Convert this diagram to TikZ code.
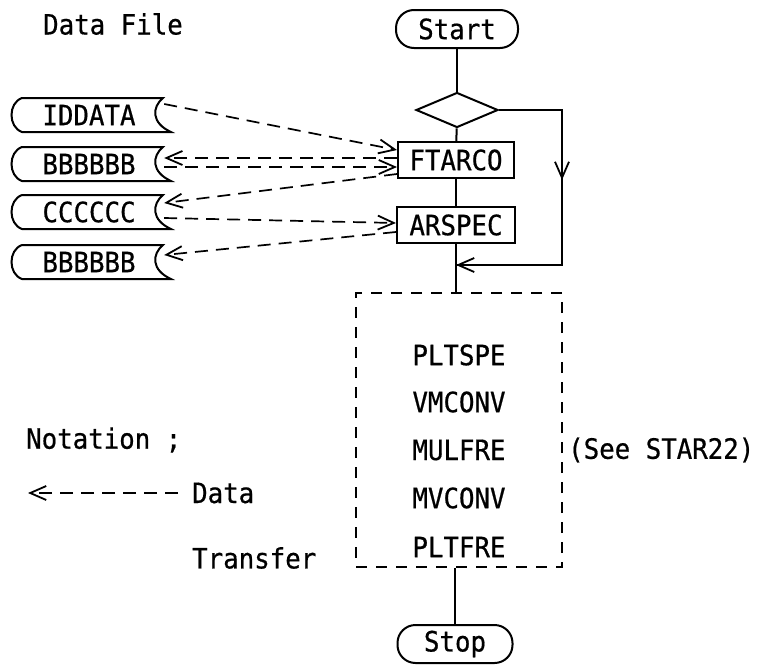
\documentclass[tikz,border=0pt]{standalone}
\usepackage{fontspec}
\setmainfont{DejaVu Sans Mono}[FakeStretch=0.92,FakeBold=0.6]
\usetikzlibrary{arrows.meta,shapes.geometric,calc}
\begin{document}
\begin{tikzpicture}[x=1pt,y=-1pt,
  every node/.style={font=\fontsize{28}{32}\selectfont},
  ln/.style={line width=2pt},
  barb/.style={-{Straight Barb[length=16pt,width=14pt,line width=1.8pt]}},
  proc/.style={draw,line width=2pt,minimum height=36pt,inner sep=3pt},
  term/.style={draw,line width=2pt,rounded corners=18pt,minimum height=38pt},
  dia/.style={draw,line width=2pt,shape=diamond,aspect=2.3,minimum width=82pt,minimum height=35pt,inner sep=0pt},
  grpbox/.style={draw,line width=1.9pt,dash pattern=on 11pt off 9pt},
  xfer/.style={line width=1.7pt,dash pattern=on 13pt off 8pt,barb},
  free/.style={inner sep=0pt},
  filebox/.style={minimum width=150pt,minimum height=35pt,inner sep=0pt}]
\useasboundingbox (0,0) rectangle (764,667);

% title
\node[free,anchor=west] (df) at (43,24) {Data File};

% main column
\node[term,minimum width=122pt] (start) at (457,29) {Start};
\node[dia] (dd) at (457,110) {};
\node[proc,minimum width=116pt] (ft) at (456,160) {FTARCO};
\node[proc,minimum width=118pt] (ar) at (456,225) {ARSPEC};
\node[grpbox,minimum width=206pt,minimum height=274pt] (grp) at (459,430) {};
\foreach \n/\y/\t in {p1/355/PLTSPE,p2/402/VMCONV,p3/450/MULFRE,p4/498/MVCONV,p5/547/PLTFRE}{
  \node (\n) at (459,\y) {\t};
}
\node[free,anchor=west] (see) at (568,450) {(See STAR22)};
\node[term,minimum width=115pt] (stop) at (455,644) {Stop};

\draw[ln] (start) -- (dd);
\draw[ln] (dd) -- (ft);
\draw[ln] (ft) -- (ar);
\draw[ln] (ar.south) -- (ar.south |- grp.north);
\draw[ln] (grp.south -| stop) -- (stop);

% loop
\coordinate (c1) at (562,110);
\coordinate (c2) at (562,265);
\coordinate (ca) at (562,180);
\coordinate (cj) at (ar.south |- c2);
\draw[ln] (dd.east) -- (c1) -- (c2) -- (cj);
\draw[ln,barb] (c1) -- (ca);
\draw[ln,barb] (c2) -- (cj);

% data files
\foreach \n/\y/\t in {f1/115/IDDATA,f2/164/BBBBBB,f3/212/CCCCCC,f4/262/BBBBBB}{
  \node[filebox] (\n) at (89,\y) {\t};
  \draw[ln] (22,\y-17) -- (163,\y-17) .. controls (152,\y-8) and (151,\y+8) .. (171,\y+17)
     -- (22,\y+17) .. controls (8,\y+12) and (8,\y-12) .. (22,\y-17) -- cycle;
}

% data transfers
\draw[xfer] ([yshift=11pt]f1.east) -- ([yshift=10pt]ft.west);
\draw[xfer] ([yshift=2pt]ft.west) -- ([yshift=6pt]f2.east);
\draw[xfer] ([yshift=-3pt]f2.east) -- ([yshift=-7pt]ft.west);
\draw[xfer] ([yshift=-14pt]ft.west) -- ([yshift=9pt]f3.east);
\draw[xfer] ([yshift=-6pt]f3.east) -- ([yshift=2pt]ar.west);
\draw[xfer] ([yshift=-7pt]ar.west) -- ([yshift=7pt]f4.east);

% notation
\node[free,anchor=west] (nota) at (26,440) {Notation ;};
\node[free,anchor=west] (dt) at (192,493) {Data};
\node[free,anchor=west] (tr) at (192,558) {Transfer};
\coordinate (ntip) at (28,493);
\draw[xfer] ([xshift=-14pt]dt.west) -- (ntip);
\end{tikzpicture}
\end{document}
